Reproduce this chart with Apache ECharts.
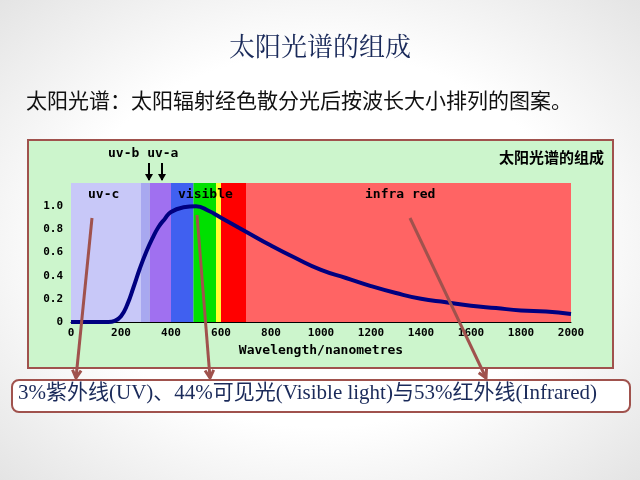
<!DOCTYPE html>
<html><head><meta charset="utf-8">
<script src="https://cdn.jsdelivr.net/npm/echarts@6/dist/echarts.min.js"></script>
<style>html,body{margin:0;padding:0;}#c{width:640px;height:480px;background:radial-gradient(ellipse at center,#ffffff 55%,#e4e4e4 100%);}</style>
</head><body><div id="c"></div>
<script>
const wavelengths=[0,50,100,150,175,200,225,250,275,300,325,350,375,400,450,500,550,600,700,800,900,1000,1100,1200,1300,1400,1500,1600,1700,1800,1900,2000];
const intensity=[0,0,0,0,0.01,0.05,0.15,0.3,0.46,0.6,0.72,0.82,0.89,0.95,0.99,1.0,0.96,0.9,0.78,0.66,0.55,0.45,0.38,0.31,0.25,0.2,0.17,0.14,0.12,0.1,0.09,0.07];
const bandStart=[0,280,315,400,490,580,600,700];
const bandEnd=[280,315,400,490,580,600,700,2000];
const bandColor=['#c8c8f8','#a8a8f0','#a070f0','#4060f0','#00e000','#ffff30','#ff0000','#ff6464'];
const chart=echarts.init(document.getElementById('c'));
const mono='"DejaVu Sans Mono", monospace';
const brown='#a0524d';
function arrow(x1,y1,x2,y2){
  const a=Math.atan2(y2-y1,x2-x1),L=9;
  return [{type:'line',z:100,shape:{x1,y1,x2,y2},style:{stroke:brown,lineWidth:3}},
  {type:'polyline',z:100,shape:{points:[[x2-L*Math.cos(a-0.5),y2-L*Math.sin(a-0.5)],[x2,y2],[x2-L*Math.cos(a+0.5),y2-L*Math.sin(a+0.5)]]},style:{stroke:brown,lineWidth:3,fill:null}}];
}
function small(x,y1,y2){return [{type:'line',z:100,shape:{x1:x,y1:y1,x2:x,y2:y2},style:{stroke:'#000',lineWidth:2}},{type:'polygon',z:100,shape:{points:[[x-4,y2-6],[x+4,y2-6],[x,y2+1]]},style:{fill:'#000'}}];}
chart.setOption({
  animation:false,
  graphic:[
    {type:'rect',z:-1,shape:{x:28,y:140,width:585,height:228},style:{fill:'#ccf5cc',stroke:brown,lineWidth:2}},
    {type:'text',left:'center',top:33,style:{text:'太阳光谱的组成',font:'26px "Noto Serif CJK SC","Noto Sans CJK SC"',fill:'#1a2a5a'}},
    {type:'text',left:26,top:90,style:{text:'太阳光谱：太阳辐射经色散分光后按波长大小排列的图案。',font:'21px "Noto Sans CJK SC"',fill:'#111'}},
    {type:'text',right:36,top:150,z:100,style:{text:'太阳光谱的组成',font:'bold 15px "Noto Sans CJK SC"',fill:'#000'}},
    {type:'text',left:108,top:147,z:100,style:{text:'uv-b uv-a',font:'bold 13px '+mono,fill:'#000'}},
    ...small(149,163,180),...small(162,163,180),
    {type:'text',left:88,top:188,z:100,style:{text:'uv-c',font:'bold 13px '+mono,fill:'#000'}},
    {type:'text',left:178,top:188,z:100,style:{text:'visible',font:'bold 13px '+mono,fill:'#000'}},
    {type:'text',left:365,top:188,z:100,style:{text:'infra red',font:'bold 13px '+mono,fill:'#000'}},
    {type:'rect',z:99,shape:{x:12,y:380,width:618,height:32,r:7},style:{fill:'#fff',stroke:brown,lineWidth:2}},
    {type:'text',left:18,top:383,z:100,style:{text:'3%紫外线(UV)、44%可见光(Visible light)与53%红外线(Infrared)',font:'21px "Liberation Serif","Noto Sans CJK SC"',fill:'#1a2a5a'}},
    ...arrow(92,218,76,378),...arrow(197,215,210,378),...arrow(410,218,486,378)
  ],
  grid:{left:71,right:69,top:183,bottom:158},
  xAxis:{type:'value',min:0,max:2000,interval:200,
    name:'Wavelength/nanometres',nameLocation:'middle',nameGap:22,
    nameTextStyle:{color:'#000',fontFamily:mono,fontWeight:'bold',fontSize:13},
    axisLine:{lineStyle:{color:'#000'}},axisTick:{show:false},splitLine:{show:false},
    axisLabel:{color:'#000',fontFamily:mono,fontWeight:'bold',fontSize:11,margin:6,formatter:v=>String(v)}},
  yAxis:{type:'value',min:0,max:1.2,interval:0.2,
    axisLine:{show:false},axisTick:{show:false},splitLine:{show:false},
    axisLabel:{color:'#000',fontFamily:mono,fontWeight:'bold',fontSize:11,margin:8,
      formatter:v=>v>1.1?'':(v===0?'0':v.toFixed(1))}},
  series:[{type:'line',data:wavelengths.map((w,i)=>[w,intensity[i]]),smooth:true,symbol:'none',
    lineStyle:{color:'#000080',width:4},z:5,
    markArea:{silent:true,data:bandStart.map((s,i)=>[{xAxis:s,itemStyle:{color:bandColor[i],opacity:1}},{xAxis:bandEnd[i]}])}}]
});
</script></body></html>
